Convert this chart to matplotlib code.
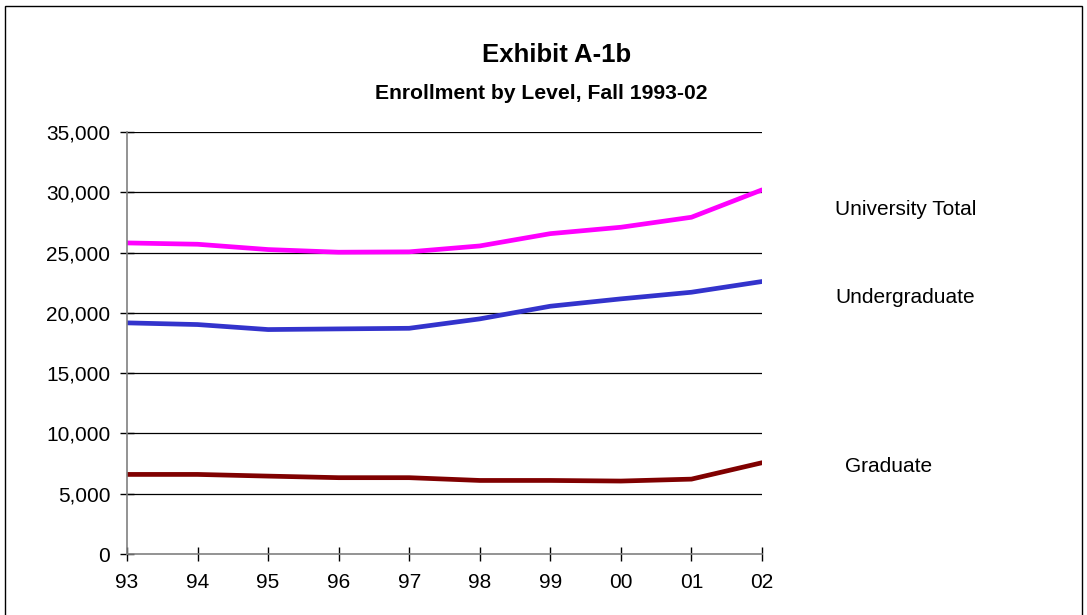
import matplotlib
matplotlib.use("Agg")
import matplotlib.pyplot as plt
from matplotlib.patches import Rectangle
from matplotlib.ticker import FuncFormatter

years = ["93", "94", "95", "96", "97", "98", "99", "00", "01", "02"]
university_total = [25800, 25690, 25250, 25030, 25060, 25550, 26570, 27100, 27930, 30200]
undergraduate = [19170, 19030, 18615, 18670, 18720, 19500, 20550, 21160, 21710, 22600]
graduate = [6600, 6600, 6460, 6330, 6330, 6100, 6100, 6050, 6210, 7570]
series_labels = ["University Total", "Undergraduate", "Graduate"]
y_ticks = [0, 5000, 10000, 15000, 20000, 25000, 30000, 35000]

plt.rcParams['font.family'] = ['Liberation Sans', 'DejaVu Sans']

W, H = 1087, 615
fig = plt.figure(figsize=(W / 100, H / 100), dpi=100)
fig.patch.set_facecolor("white")

fig.patches.append(Rectangle((5 / W, -0.02), (1082 - 5) / W, 1 - 6 / H + 0.02,
                             transform=fig.transFigure, fill=False,
                             edgecolor="black", linewidth=1.0))

ax = fig.add_axes([127 / W, 1 - 554 / H, (762 - 127) / W, (554 - 132) / H])
x = list(range(len(years)))

ax.plot(x, university_total, color="#FF00FF", linewidth=3.4, solid_capstyle="round")
ax.plot(x, undergraduate, color="#3333CC", linewidth=3.4, solid_capstyle="round")
ax.plot(x, graduate, color="#800000", linewidth=3.4, solid_capstyle="round")

ax.set_xlim(0, len(years) - 1)
ax.set_ylim(0, 35000)
ax.set_xticks(x)
ax.set_xticklabels(years)
ax.set_yticks(y_ticks)
ax.yaxis.set_major_formatter(FuncFormatter(lambda v, p: f"{int(v):,}"))

for v in y_ticks[1:]:
    ax.axhline(v, color="black", linewidth=0.9, zorder=0)

for s in ["top", "right"]:
    ax.spines[s].set_visible(False)
for s in ["left", "bottom"]:
    ax.spines[s].set_color("#808080")
    ax.spines[s].set_linewidth(1.2)

ax.tick_params(axis="x", direction="inout", length=10, width=1, color="black",
               labelsize=15, pad=9)
ax.tick_params(axis="y", direction="inout", length=10, width=1, color="black",
               labelsize=15, pad=7)

fig.text(557 / W, 1 - 62 / H, "Exhibit A-1b", ha="center", va="baseline",
         fontsize=18.5, fontweight="bold")
fig.text(541 / W, 1 - 99 / H, "Enrollment by Level, Fall 1993-02", ha="center",
         va="baseline", fontsize=15.2, fontweight="bold")

fig.text(835 / W, 1 - 215 / H, series_labels[0], ha="left", va="baseline", fontsize=15)
fig.text(835 / W, 1 - 303 / H, series_labels[1], ha="left", va="baseline", fontsize=15)
fig.text(845 / W, 1 - 472 / H, series_labels[2], ha="left", va="baseline", fontsize=15)

fig.savefig("out.png", dpi=100, facecolor="white")
